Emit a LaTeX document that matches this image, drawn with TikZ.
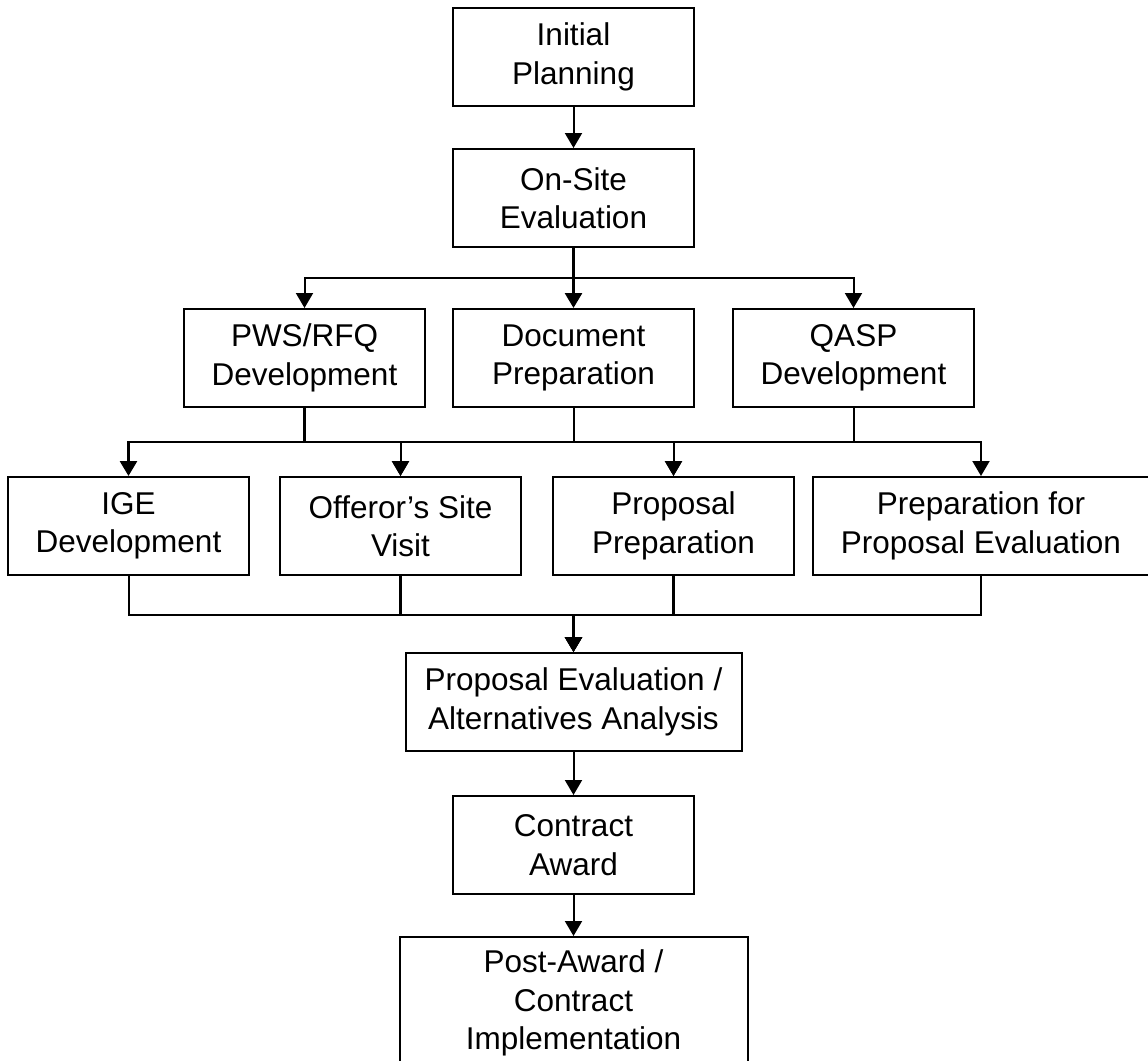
\documentclass[tikz,border=0pt]{standalone}
\usepackage{fontspec}
\setmainfont{Liberation Sans}
\usetikzlibrary{shapes, arrows.meta, positioning}

\begin{document}
\begin{tikzpicture}[
        node distance=20.5pt and 13pt,
        block/.style={rectangle, draw, line width=1pt, fill=white, minimum width=120.5pt, minimum height=49pt, inner sep=0pt, align=center, font={\fontsize{15.75}{19.25}\selectfont}},
        wideblock/.style={block, minimum width=168pt},
        arrow/.style={line width=1pt, -{Triangle[length=7.5pt, width=8.5pt]}},
        trunk/.style={arrow, line width=1.4pt}
    ]
    \useasboundingbox (0,0) rectangle (574pt,-530.5pt);

    % Planning
    \node [block, anchor=north] (init) at (286.75pt,-3.5pt) {Initial\\ Planning};
    \node [block, below=of init] (onsite) {On-Site\\ Evaluation};

    % Development
    \node [block, below=30pt of onsite] (doc) {Document\\ Preparation};
    \node [block, left=13pt of doc] (pws) {PWS/RFQ\\ Development};
    \node [block, right=18.5pt of doc] (qasp) {QASP\\ Development};

    % Preparation
    \node [block, below=34pt of pws, xshift=-88pt] (ige) {IGE\\ Development};
    \node [block, below=34pt of pws, xshift=48pt] (offeror) {Offeror’s Site\\ Visit};
    \node [block, below=34pt of doc, xshift=50pt] (propprep) {Proposal\\ Preparation};
    \node [wideblock, below=34pt of qasp, xshift=63.75pt] (prepeval) {Preparation for\\ Proposal Evaluation};

    % Evaluation and award
    \node [wideblock, below=122pt of doc] (peval) {Proposal Evaluation /\\ Alternatives Analysis};
    \node [block, below=21.5pt of peval] (award) {Contract\\ Award};
    \node [wideblock, below=of award, minimum width=174pt, minimum height=66pt] (postaward) {Post-Award /\\ Contract\\ Implementation};

    % Connecting Lines
    \draw [arrow] (init) -- (onsite);
    \draw [trunk] (onsite) -- (doc);
    \draw [arrow] (onsite.south) -- ++(0,-15pt) -| (pws.north);
    \draw [arrow] (onsite.south) -- ++(0,-15pt) -| (qasp.north);

    % Second branching
    \draw [trunk] (pws.south) -- ++(0,-17pt) -| (ige.north);
    \draw [arrow] (pws.south) -- ++(0,-17pt) -| (offeror.north);
    \draw [arrow] (doc.south) -- ++(0,-17pt) -| (offeror.north);
    \draw [arrow] (doc.south) -- ++(0,-17pt) -| (propprep.north);
    \draw [arrow] (qasp.south) -- ++(0,-17pt) -| (propprep.north);
    \draw [arrow] (qasp.south) -- ++(0,-17pt) -| (prepeval.north);

    % Merging into evaluation
    \draw [arrow] (ige.south) -- ++(0,-19.5pt) -| (peval.north);
    \draw [trunk] (offeror.south) -- ++(0,-19.5pt) -| (peval.north);
    \draw [trunk] (propprep.south) -- ++(0,-19.5pt) -| (peval.north);
    \draw [arrow] (prepeval.south) -- ++(0,-19.5pt) -| (peval.north);

    \draw [arrow] (peval) -- (award);
    \draw [arrow] (award) -- (postaward);

\end{tikzpicture}
\end{document}
